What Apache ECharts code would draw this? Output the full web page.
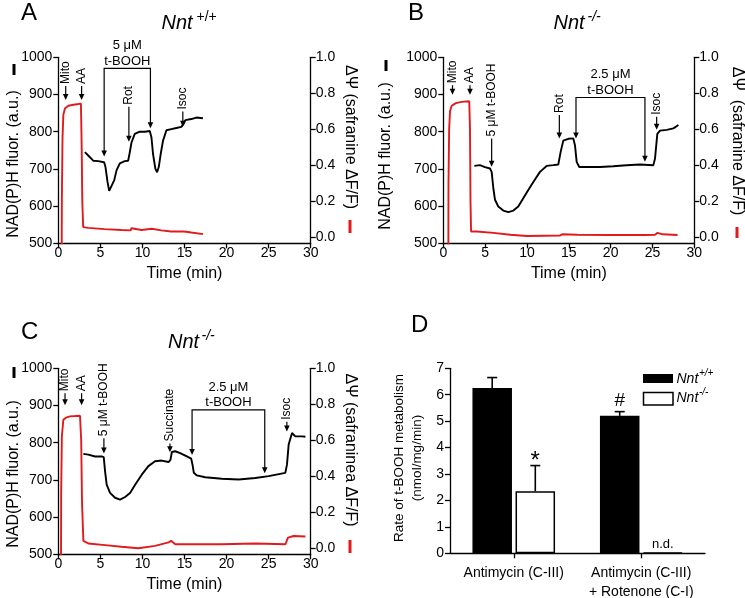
<!DOCTYPE html>
<html><head><meta charset="utf-8">
<script src="https://cdn.jsdelivr.net/npm/echarts@6/dist/echarts.min.js"></script>
<style>html,body{margin:0;padding:0;background:#fff}#c{width:745px;height:598px}</style>
</head><body><div id="c"></div><script>
// ---------- DATA ----------
// Panel A (Nnt +/+): NAD(P)H fluorescence (black, left axis)
const A_nadph_t = [3.16,3.56,4.15,4.74,5.45,5.61,5.85,6.05,6.25,6.64,6.92,7.31,7.9,8.3,8.46,8.7,9.09,9.68,10.28,10.87,11.07,11.26,11.54,11.74,11.94,12.17,12.45,12.85,13.44,14.03,14.62,14.86,15.1,15.81,16.4,17.19];
const A_nadph_v = [745,736,722,721,718,705,665,641,642,669,696,715,721,722,740,771,794,800,800,802,785,740,700,691,705,740,776,804,807,810,813,820,831,834,838,836];
// Panel A: safranine dF/F (red, right axis)
const A_psi_t = [0.4,0.42,0.5,0.6,0.8,1.2,1.8,2.4,2.69,2.78,2.85,2.96,3.56,5.5,7.5,8.6,8.7,8.8,9.9,11.1,12.25,13.4,14.8,15.0,15.2,15.8,17.2];
const A_psi_v = [-0.2,0.2,0.55,0.68,0.716,0.73,0.736,0.74,0.742,0.5,0.2,0.054,0.05,0.043,0.038,0.036,0.048,0.038,0.038,0.045,0.036,0.03,0.03,0.038,0.028,0.024,0.015];

// Panel B (Nnt -/-)
const B_nadph_t = [3.71,4.38,4.98,5.58,5.78,5.98,6.18,6.57,7.17,7.77,8.37,8.96,9.56,10.16,10.76,11.55,12.35,13.15,13.75,14.02,14.34,14.94,15.54,15.74,15.94,16.25,17.13,18.73,20.3,21.9,23.5,25.1,25.3,25.58,25.9,26.7,27.5,28.1];
const B_nadph_v = [708,710,705,701,692,648,617,599,588,584,588,599,621,643,665,692,708,710,712,745,776,781,782,763,719,705,705,705,707,710,712,710,727,794,803,805,809,818];
const B_psi_t = [0.6,0.62,0.7,0.8,1.0,1.5,2.2,3.1,3.19,3.25,3.32,4,6,8,10,12,13.9,14.2,16,20,24,25.3,25.6,26.2,28];
const B_psi_v = [-0.2,0.3,0.6,0.7,0.73,0.745,0.752,0.755,0.6,0.2,0.03,0.03,0.022,0.012,0.005,0.006,0.007,0.014,0.012,0.01,0.01,0.012,0.022,0.014,0.01];

// Panel C (Nnt -/-)
const C_nadph_t = [2.98,3.57,4.37,5.16,5.4,5.56,5.75,6.15,6.75,7.34,7.94,8.53,9.13,9.92,10.71,11.5,12.3,13.1,13.33,13.5,13.9,14.48,15.28,15.8,15.95,16.11,16.47,17.46,19.44,21.43,23.41,25,26.98,27.18,27.38,27.78,28.17,28.97,29.37];
const C_nadph_v = [770,768,763,763,761,723,687,665,652,647,654,665,687,714,737,750,752,748,754,775,777,772,763,757,741,719,712,707,703,701,705,710,719,741,795,826,817,817,816];
const C_psi_t = [0.32,0.34,0.42,0.6,0.9,1.4,2.0,2.58,2.72,2.82,2.98,3.57,5.56,7.5,9.5,11.5,13.1,13.4,13.9,15.5,19.4,23.4,27.0,27.3,27.98,29.37];
const C_psi_v = [-0.2,0.3,0.62,0.713,0.725,0.732,0.734,0.736,0.6,0.25,0.039,0.024,0.015,0.006,-0.002,0.011,0.03,0.039,0.02,0.02,0.02,0.024,0.02,0.057,0.066,0.063];

// Annotations (time in min, levels in NAD(P)H a.u.)
const A_arrows = [
  {label:'Mito', t:0.88, top:923, tip:885},
  {label:'AA', t:2.77, top:923, tip:885},
  {label:'Rot', t:8.39, top:867, tip:773},
  {label:'Isoc', t:14.8, top:854, tip:813}
];
const A_brackets = [{lines:['5 \u03bcM','t-BOOH'], t1:5.45, t2:10.95, top:970, tip1:733, tip2:809}];
const B_arrows = [
  {label:'Mito', t:1.1, top:925, tip:899},
  {label:'AA', t:3.19, top:925, tip:899},
  {label:'5 \u03bcM t-BOOH', t:5.78, top:782, tip:706},
  {label:'Rot', t:13.87, top:845, tip:782},
  {label:'Isoc', t:25.5, top:840, tip:805}
];
const B_brackets = [{lines:['2.5 \u03bcM','t-BOOH'], t1:15.86, t2:24.1, top:892, tip1:782, tip2:719}];
const C_arrows = [
  {label:'Mito', t:0.8, top:933, tip:901},
  {label:'AA', t:2.77, top:933, tip:901},
  {label:'5 \u03bcM t-BOOH', t:5.42, top:812, tip:771},
  {label:'Succinate', t:13.27, top:798, tip:774},
  {label:'Isoc', t:27.17, top:856, tip:830}
];
const C_brackets = [{lines:['2.5 \u03bcM','t-BOOH'], t1:15.9, t2:24.54, top:888, tip1:767, tip2:718}];

// Panel D
const D_categories = ['Antimycin (C-III)', 'Antimycin (C-III)\n+ Rotenone (C-I)'];
const D_wt = [6.25, 5.2];
const D_wt_err = [0.4, 0.16];
const D_ko = [2.35, 0.03];
const D_ko_err = [0.97, 0];
const D_wt_marks = ['', '#'];
const D_ko_marks = ['*', 'n.d.'];

const LEFT_TICKS = [500, 1000, 100];
const RIGHT_TICKS = [0, 0.2, 0.4, 0.6, 0.8, 1.0];
const TIME_TICKS = [0, 30, 5];

// ---------- BUILD ----------
const FF = '"Liberation Sans", Arial, Helvetica, sans-serif';
const RMIN = -0.036;
const zip = (a, b) => a.map((v, i) => [v, b[i]]);
const AX = {color:'#000', width:1.3};

function xTime(g) {
  return {type:'value', gridIndex:g, min:TIME_TICKS[0], max:TIME_TICKS[1], interval:TIME_TICKS[2],
    axisLine:{show:true, onZero:false, lineStyle:AX}, axisTick:{show:true, length:5, lineStyle:AX},
    axisLabel:{color:'#000', fontSize:14, fontFamily:FF, margin:3, formatter:v => String(v)}, splitLine:{show:false},
    name:'Time (min)', nameLocation:'middle', nameGap:22, nameTextStyle:{fontSize:16, color:'#000', fontFamily:FF}};
}
function yLeft(g) {
  return {type:'value', gridIndex:g, position:'left', min:LEFT_TICKS[0], max:LEFT_TICKS[1], interval:LEFT_TICKS[2],
    axisLine:{show:true, onZero:false, lineStyle:AX}, axisTick:{show:true, length:5, lineStyle:AX},
    axisLabel:{color:'#000', fontSize:14, fontFamily:FF, margin:6, formatter:v => String(v)}, splitLine:{show:false}};
}
function yRight(g) {
  return {type:'value', gridIndex:g, position:'right', min:RMIN, max:1,
    axisLine:{show:true, onZero:false, lineStyle:AX},
    axisTick:{show:true, length:5, lineStyle:AX, customValues:RIGHT_TICKS},
    axisLabel:{color:'#000', fontSize:14, fontFamily:FF, margin:5, customValues:RIGHT_TICKS, formatter:v => v.toFixed(1)},
    splitLine:{show:false}};
}
function trace(xi, yi, t, v, color) {
  return {type:'line', xAxisIndex:xi, yAxisIndex:yi, data:zip(t, v), showSymbol:false, animation:false,
    lineStyle:{color, width:1.9}, itemStyle:{color}, z:3};
}
const H = 6, W = 2.8;
function head(x, y) { return {type:'polygon', shape:{points:[[x-W, y-H],[x+W, y-H],[x, y]]}, style:{fill:'#000'}}; }
function arrowSeries(xi, yi, list) {
  return {type:'custom', xAxisIndex:xi, yAxisIndex:yi, z:10, silent:true, animation:false, clip:false,
    data:list.map(d => [d.t, d.top, d.tip]),
    renderItem:(params, api) => {
      const d = list[params.dataIndex];
      const a = api.coord([api.value(0), api.value(1)]);
      const b = api.coord([api.value(0), api.value(2)]);
      return {type:'group', children:[
        {type:'line', shape:{x1:a[0], y1:a[1], x2:b[0], y2:b[1]-H+1}, style:{stroke:'#000', lineWidth:1.2}},
        head(b[0], b[1]),
        {type:'text', x:a[0], y:a[1]-2, rotation:Math.PI/2,
          style:{text:d.label, fontSize:12, fontFamily:FF, fill:'#000', align:'left', verticalAlign:'middle'}}
      ]};
    }};
}
function bracketSeries(xi, yi, list) {
  return {type:'custom', xAxisIndex:xi, yAxisIndex:yi, z:10, silent:true, animation:false, clip:false,
    data:list.map(d => [d.t1, d.top, d.t2, d.tip1, d.tip2]),
    renderItem:(params, api) => {
      const d = list[params.dataIndex];
      const p1 = api.coord([api.value(0), api.value(1)]);
      const p2 = api.coord([api.value(2), api.value(1)]);
      const q1 = api.coord([api.value(0), api.value(3)]);
      const q2 = api.coord([api.value(2), api.value(4)]);
      const cx = (p1[0] + p2[0]) / 2;
      return {type:'group', children:[
        {type:'polyline', shape:{points:[[q1[0], q1[1]-H+1],[p1[0], p1[1]],[p2[0], p2[1]],[q2[0], q2[1]-H+1]]},
          style:{stroke:'#000', lineWidth:1.2, fill:null}},
        head(q1[0], q1[1]), head(q2[0], q2[1]),
        {type:'text', x:cx, y:p1[1]-23, style:{text:d.lines[0], fontSize:13, fontFamily:FF, fill:'#000', align:'center', verticalAlign:'middle'}},
        {type:'text', x:cx, y:p1[1]-7.5, style:{text:d.lines[1], fontSize:13, fontFamily:FF, fill:'#000', align:'center', verticalAlign:'middle'}}
      ]};
    }};
}
const BW = 0.31, GAP = 0.09;
const MARK_STYLE = {'*':{size:24, dy:8}, '#':{size:19, dy:-1}, 'n.d.':{size:13, dy:-2}};
function errSeries(vals, errs, marks, side) {
  return {type:'custom', xAxisIndex:3, yAxisIndex:6, z:10, silent:true, animation:false, clip:false,
    data:vals.map((v, i) => [i, v, errs[i]]),
    renderItem:(params, api) => {
      const i = api.value(0), v = api.value(1), e = api.value(2);
      const band = api.size([1, 0])[0];
      const bw = band * BW;
      const off = side * (bw + bw * GAP) / 2;
      const c = api.coord([i, v]);
      const t = api.coord([i, v + e]);
      const x = c[0] + off;
      const ch = [];
      if (e > 0) {
        ch.push({type:'line', shape:{x1:x, y1:c[1], x2:x, y2:t[1]}, style:{stroke:'#000', lineWidth:1.6}});
        ch.push({type:'line', shape:{x1:x-5, y1:t[1], x2:x+5, y2:t[1]}, style:{stroke:'#000', lineWidth:1.6}});
      }
      const m = marks[params.dataIndex];
      if (m) {
        const ms = MARK_STYLE[m];
        ch.push({type:'text', x:x, y:t[1] + ms.dy,
          style:{text:m, fontSize:ms.size, fontFamily:FF, fill:'#000', align:'center', verticalAlign:'bottom'}});
      }
      return {type:'group', children:ch};
    }};
}

const grids = [
  {left:58.3, top:57.3, width:252.4, height:186, outerBoundsMode:'none', containLabel:false},
  {left:443.3, top:57.3, width:251, height:186, outerBoundsMode:'none', containLabel:false},
  {left:58.3, top:368.3, width:252.4, height:186, outerBoundsMode:'none', containLabel:false},
  {left:450, top:368.3, width:255, height:185, outerBoundsMode:'none', containLabel:false}
];

function txt(x, y, text, size, opts) {
  return Object.assign({type:'text', x, y, silent:true,
    style:Object.assign({text, fontSize:size, fontFamily:FF, fill:'#000', align:'left', verticalAlign:'middle'}, (opts && opts.style) || {})},
    opts && opts.rotation !== undefined ? {rotation:opts.rotation} : {});
}
function rect(x, y, w, h, fill, stroke) {
  return {type:'rect', silent:true, shape:{x, y, width:w, height:h}, style:{fill, stroke:stroke || null, lineWidth:stroke ? 1.5 : 0}};
}
const it = {style:{fontStyle:'italic'}};
const graphic = [
  txt(21, 13.5, 'A', 24), txt(408, 13.5, 'B', 24), txt(21, 332.5, 'C', 24), txt(411, 325, 'D', 24),
  txt(161.5, 23, 'Nnt', 20, it), txt(196.5, 17.5, '+/+', 14),
  txt(553.5, 23, 'Nnt', 20, it), txt(587.5, 17.5, '-/-', 14, it),
  txt(168, 342, 'Nnt', 20, it), txt(201.5, 336, '-/-', 14, it),
  // left axis titles
  txt(14, 164, 'NAD(P)H fluor. (a.u.)', 16, {rotation:Math.PI/2, style:{align:'center'}}),
  rect(12.5, 64, 3, 11, '#000'),
  txt(386, 156, 'NAD(P)H fluor. (a.u.)', 16, {rotation:Math.PI/2, style:{align:'center'}}),
  rect(384.5, 60, 3, 11, '#000'),
  txt(14, 474, 'NAD(P)H fluor. (a.u.)', 16, {rotation:Math.PI/2, style:{align:'center'}}),
  rect(12.5, 367, 3, 11, '#000'),
  // right axis titles
  txt(350, 137, '\u0394\u03a8 (safranine \u0394F/F)', 16, {rotation:-Math.PI/2, style:{align:'center'}}),
  rect(348.5, 220, 3, 13, '#e31a1c'),
  txt(737, 141, '\u0394\u03a8  (safranine \u0394F/F)', 16, {rotation:-Math.PI/2, style:{align:'center'}}),
  rect(735.5, 227, 3, 11, '#e31a1c'),
  txt(350, 450, '\u0394\u03a8 (safraninea \u0394F/F)', 16, {rotation:-Math.PI/2, style:{align:'center'}}),
  rect(348.5, 540, 3, 13, '#e31a1c'),
  // panel D y title
  txt(408, 458, 'Rate of t-BOOH metabolism\n(nmol/mg/min)', 13.5, {rotation:Math.PI/2, style:{align:'center', lineHeight:18}}),
  // legend D
  rect(643, 374, 30, 9, '#000'),
  txt(676.5, 379, 'Nnt', 14, it), txt(699, 373, '+/+', 10, it),
  rect(643.5, 392.5, 29.5, 12.5, '#fff', '#000'),
  txt(676.5, 398, 'Nnt', 14, it), txt(699, 392, '-/-', 10, it)
];

const option = {
  animation:false,
  backgroundColor:'#fff',
  textStyle:{fontFamily:FF},
  grid:grids,
  xAxis:[xTime(0), xTime(1), xTime(2),
    {type:'category', gridIndex:3, data:D_categories,
      axisLine:{show:true, lineStyle:AX}, axisTick:{show:true, alignWithLabel:true, length:5, lineStyle:AX},
      axisLabel:{color:'#000', fontSize:14, fontFamily:FF, margin:10, lineHeight:19, interval:0}}],
  yAxis:[yLeft(0), yRight(0), yLeft(1), yRight(1), yLeft(2), yRight(2),
    {type:'value', gridIndex:3, min:0, max:7, interval:1,
      axisLine:{show:true, lineStyle:AX}, axisTick:{show:true, length:5, lineStyle:AX},
      axisLabel:{color:'#000', fontSize:14, fontFamily:FF, margin:6}, splitLine:{show:false}}],
  series:[
    trace(0, 1, A_psi_t, A_psi_v, '#e31a1c'),
    trace(0, 0, A_nadph_t, A_nadph_v, '#000'),
    arrowSeries(0, 0, A_arrows), bracketSeries(0, 0, A_brackets),
    trace(1, 3, B_psi_t, B_psi_v, '#e31a1c'),
    trace(1, 2, B_nadph_t, B_nadph_v, '#000'),
    arrowSeries(1, 2, B_arrows), bracketSeries(1, 2, B_brackets),
    trace(2, 5, C_psi_t, C_psi_v, '#e31a1c'),
    trace(2, 4, C_nadph_t, C_nadph_v, '#000'),
    arrowSeries(2, 4, C_arrows), bracketSeries(2, 4, C_brackets),
    {type:'bar', name:'Nnt+/+', xAxisIndex:3, yAxisIndex:6, data:D_wt, barWidth:(BW*100)+'%', barGap:(GAP*100)+'%',
      itemStyle:{color:'#000'}, animation:false},
    {type:'bar', name:'Nnt-/-', xAxisIndex:3, yAxisIndex:6, data:D_ko, barWidth:(BW*100)+'%', barGap:(GAP*100)+'%',
      itemStyle:{color:'#fff', borderColor:'#000', borderWidth:1.5}, animation:false},
    errSeries(D_wt, D_wt_err, D_wt_marks, -1),
    errSeries(D_ko, D_ko_err, D_ko_marks, 1)
  ],
  graphic
};
const chart = echarts.init(document.getElementById('c'), null, {renderer:'canvas'});
chart.setOption(option);
</script></body></html>
